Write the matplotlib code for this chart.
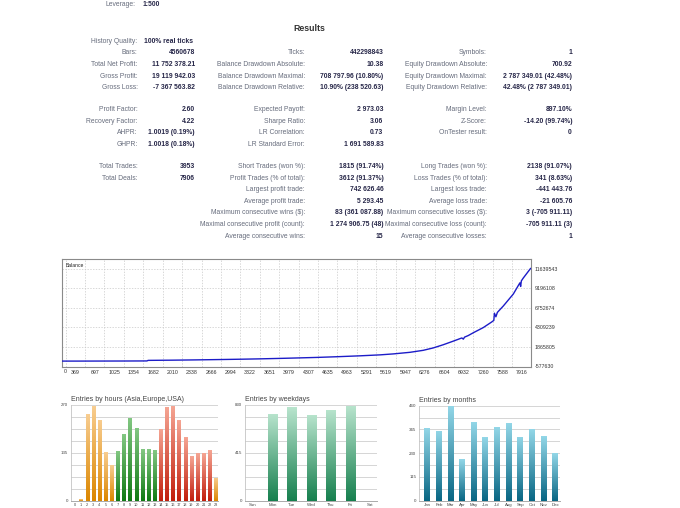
import numpy as np
import matplotlib
matplotlib.use("Agg")
import matplotlib.pyplot as plt
import matplotlib.colors as mcolors

W, H = 680, 508
plt.rcParams['font.family'] = ['Liberation Sans', 'DejaVu Sans']

# ---------------- report data ----------------
leverage = "1:500"

col1_labels = ["History Quality:", "Bars:", "Total Net Profit:", "Gross Profit:", "Gross Loss:",
               "Profit Factor:", "Recovery Factor:", "AHPR:", "GHPR:",
               "Total Trades:", "Total Deals:"]
col1_values = ["100% real ticks", "4560678", "11 752 378.21", "19 119 942.03", "-7 367 563.82",
               "2.60", "4.22", "1.0019 (0.19%)", "1.0018 (0.18%)",
               "3953", "7906"]
col1_rows = [0, 1, 2, 3, 4, 5, 6, 7, 8, 9, 10]

col2_labels = ["Ticks:", "Balance Drawdown Absolute:", "Balance Drawdown Maximal:", "Balance Drawdown Relative:",
               "Expected Payoff:", "Sharpe Ratio:", "LR Correlation:", "LR Standard Error:",
               "Short Trades (won %):", "Profit Trades (% of total):", "Largest profit trade:",
               "Average profit trade:", "Maximum consecutive wins ($):",
               "Maximal consecutive profit (count):", "Average consecutive wins:"]
col2_values = ["442298843", "10.38", "708 797.96 (10.80%)", "10.90% (238 520.63)",
               "2 973.03", "3.06", "0.73", "1 691 589.83",
               "1815 (91.74%)", "3612 (91.37%)", "742 626.46",
               "5 293.45", "83 (361 087.88)", "1 274 906.75 (48)", "15"]
col2_rows = [1, 2, 3, 4, 5, 6, 7, 8, 9, 10, 11, 12, 13, 14, 15]

col3_labels = ["Symbols:", "Equity Drawdown Absolute:", "Equity Drawdown Maximal:", "Equity Drawdown Relative:",
               "Margin Level:", "Z-Score:", "OnTester result:",
               "Long Trades (won %):", "Loss Trades (% of total):", "Largest loss trade:",
               "Average loss trade:", "Maximum consecutive losses ($):",
               "Maximal consecutive loss (count):", "Average consecutive losses:"]
col3_values = ["1", "700.92", "2 787 349.01 (42.48%)", "42.48% (2 787 349.01)",
               "897.10%", "-14.20 (99.74%)", "0",
               "2138 (91.07%)", "341 (8.63%)", "-441 443.76",
               "-21 605.76", "3 (-705 911.11)", "-705 911.11 (3)", "1"]
col3_rows = [1, 2, 3, 4, 5, 6, 7, 9, 10, 11, 12, 13, 14, 15]

# balance curve (deal number, balance)
bal_x = [0, 400, 800, 1200, 1580, 1600, 2000, 2400, 2865, 3200, 3490, 3900, 4453,
         4800, 5179, 5517, 5742, 6024, 6248, 6417, 6586, 6755, 6900, 6925, 6945,
         7008, 7093, 7262, 7404, 7440, 7450, 7475, 7500, 7600, 7769, 7880, 7893,
         7905, 7937, 8060]
bal_y = [100000, 100000, 105000, 110000, 120000, 190000, 215000, 250000, 300000,
         340000, 380000, 450000, 560000, 650000, 760000, 880000, 1000000, 1200000,
         1450000, 1750000, 2150000, 2600000, 3000000, 2850000, 3100000, 3300000,
         3650000, 4300000, 5000000, 5200000, 6100000, 5650000, 6200000, 7000000,
         8500000, 9900000, 9450000, 10150000, 10500000, 11700000]
bal_xticks = [369, 697, 1025, 1354, 1682, 2010, 2338, 2666, 2994, 3322, 3651, 3979,
              4307, 4635, 4963, 5291, 5619, 5947, 6276, 6604, 6932, 7260, 7588, 7916]
bal_yticks = [-577630, 1865805, 4309239, 6752674, 9196108, 11639543]

hours = list(range(24))
hour_entries = [0, 5, 244, 267, 229, 136, 101, 139, 189, 232, 205, 146, 146, 142,
                203, 264, 268, 227, 179, 126, 134, 135, 142, 65]
hour_session = ["asia"] * 7 + ["europe"] * 7 + ["usa"] * 9 + ["asia"]

weekdays = ["Sun", "Mon", "Tue", "Wed", "Thu", "Fri", "Sat"]
weekday_entries = [0, 755, 813, 746, 790, 824, 0]

months = ["Jan", "Feb", "Mar", "Apr", "May", "Jun", "Jul", "Aug", "Sep", "Oct", "Nov", "Dec"]
month_entries = [350, 339, 458, 202, 379, 307, 357, 376, 310, 345, 313, 229]

# ---------------- figure ----------------
fig = plt.figure(figsize=(W / 100, H / 100), dpi=100)


def fx(px):
    return px / W


def fy(py):
    return 1 - py / H


lab_col = '#666c7c'
val_col = '#262648'
fs = 4.9

fig.text(fx(136), fy(5), "Leverage:", ha='right', va='center', fontsize=fs, color=lab_col)
fig.text(fx(143), fy(5), leverage, ha='left', va='center', fontsize=fs, color=val_col, weight='bold')
fig.text(fx(309), fy(28.5), "Results", ha='center', va='center', fontsize=6.3, color='#333333', weight='bold')

row_y = [41.7, 52.9, 64.4, 76.1, 87.7, 109.3, 121.2, 133.0, 144.7,
         166.7, 178.5, 189.8, 201.3, 212.9, 224.6, 236.5]

for lab, val, r in zip(col1_labels, col1_values, col1_rows):
    fig.text(fx(137.5), fy(row_y[r]), lab, ha='right', va='center', fontsize=fs, color=lab_col)
    if r == 0:
        fig.text(fx(144), fy(row_y[r]), val, ha='left', va='center', fontsize=fs, color=val_col, weight='bold')
    else:
        fig.text(fx(195), fy(row_y[r]), val, ha='right', va='center', fontsize=fs, color=val_col, weight='bold')

for lab, val, r in zip(col2_labels, col2_values, col2_rows):
    fig.text(fx(305), fy(row_y[r]), lab, ha='right', va='center', fontsize=fs, color=lab_col)
    fig.text(fx(383.5), fy(row_y[r]), val, ha='right', va='center', fontsize=fs, color=val_col, weight='bold')

for lab, val, r in zip(col3_labels, col3_values, col3_rows):
    fig.text(fx(487), fy(row_y[r]), lab, ha='right', va='center', fontsize=fs, color=lab_col)
    fig.text(fx(572), fy(row_y[r]), val, ha='right', va='center', fontsize=fs, color=val_col, weight='bold')

# ---------------- balance graph ----------------
ax = fig.add_axes([fx(62), fy(366.5), fx(531 - 62), (366.5 - 259) / H])
ax.plot(bal_x, bal_y, color='#1c1cc8', lw=1.0, zorder=3)
ax.set_xlim(145, 8068)
ax.set_ylim(-577630, 12890000)
ax.set_xticks(bal_xticks)
ax.set_xticks([(a + b) / 2 for a, b in zip(bal_xticks[:-1], bal_xticks[1:])] + [bal_xticks[0] - 164], minor=True)
ax.set_yticks(bal_yticks)
ax.set_yticklabels([str(v) for v in bal_yticks])
ax.yaxis.tick_right()
ax.tick_params(axis='both', which='both', length=0, labelsize=3.8, colors='#333333', pad=2.5)
ax.grid(True, axis='y', which='major', color='#c8c8c8', lw=0.5, ls=(0, (2, 2)))
ax.grid(True, axis='x', which='minor', color='#c8c8c8', lw=0.5, ls=(0, (2, 2)))
for s in ax.spines.values():
    s.set_color('#8a8a8a')
    s.set_linewidth(0.8)
ax.text(0.008, 0.96, "Balance", transform=ax.transAxes, ha='left', va='top', fontsize=3.6, color='#222222')
ax.text(0.004, -0.025, "0", transform=ax.transAxes, ha='left', va='top', fontsize=3.8, color='#333333')

# ---------------- entry bar charts ----------------
session_colors = {
    "asia": ('#f8cd90', '#dc8700'),
    "europe": ('#82c782', '#107a14'),
    "usa": ('#f5a593', '#c21f0d'),
}
grad = np.linspace(0, 1, 64).reshape(-1, 1)


def gradient_bars(axb, bars, colors):
    for b, (top, bottom) in zip(bars, colors):
        if b.get_height() <= 0:
            continue
        cmap = mcolors.LinearSegmentedColormap.from_list('g', [bottom, top])
        x0 = b.get_x()
        im = axb.imshow(grad, cmap=cmap, origin='lower', aspect='auto', zorder=3,
                        extent=(x0, x0 + b.get_width(), 0, b.get_height()), interpolation='bilinear')
        im.set_clip_path(b)
        b.set_visible(False)


def style_bar_axes(axb, ymax, yticks, title, xlim):
    axb.set_xlim(*xlim)
    axb.set_ylim(0, ymax)
    axb.set_yticks(yticks)
    axb.set_yticks(np.linspace(0, ymax, 9), minor=True)
    axb.grid(True, axis='y', which='both', color='#cfcfcf', lw=0.6)
    axb.set_axisbelow(True)
    for k in ['top', 'right']:
        axb.spines[k].set_visible(False)
    axb.spines['left'].set_color('#c4c4c4')
    axb.spines['left'].set_linewidth(0.6)
    axb.spines['bottom'].set_color('#aaaaaa')
    axb.spines['bottom'].set_linewidth(0.7)
    axb.tick_params(axis='both', which='both', length=0, labelsize=3.2, colors='#444444', pad=2)
    axb.set_title(title, loc='left', fontsize=5.0, color='#444444', pad=3)


# hours
axh = fig.add_axes([fx(70.7), fy(500.7), fx(218.3 - 70.7), (500.7 - 405) / H])
bars = axh.bar(hours, hour_entries, width=0.56)
gradient_bars(axh, bars, [session_colors[s] for s in hour_session])
style_bar_axes(axh, 270, [0, 135, 270], "Entries by hours (Asia,Europe,USA)", (-0.7, 23.4))
axh.set_xticks(hours)
axh.tick_params(axis='x', labelsize=2.8, pad=1.5)

# weekdays
axw = fig.add_axes([fx(245), fy(500.7), fx(376.7 - 245), (500.7 - 405) / H])
xw = np.arange(len(weekdays))
bars = axw.bar(xw, weekday_entries, width=0.48)
gradient_bars(axw, bars, [('#b8e4cd', '#17804f')] * len(weekdays))
style_bar_axes(axw, 830, [0, 415, 830], "Entries by weekdays", (-0.4, 6.35))
axw.set_xticks(xw)
axw.set_xticklabels(weekdays)

# months
axm = fig.add_axes([fx(419), fy(500.7), fx(560 - 419), (500.7 - 405.7) / H])
xm = np.arange(len(months))
bars = axm.bar(xm, month_entries, width=0.5)
gradient_bars(axm, bars, [('#92d6e7', '#096784')] * len(months))
style_bar_axes(axm, 460, [0, 115, 230, 345, 460], "Entries by months", (-0.72, 11.43))
axm.set_yticks(np.linspace(0, 460, 9), minor=True)
axm.set_xticks(xm)
axm.set_xticklabels(months)

fig.savefig("out.png", dpi=100)
